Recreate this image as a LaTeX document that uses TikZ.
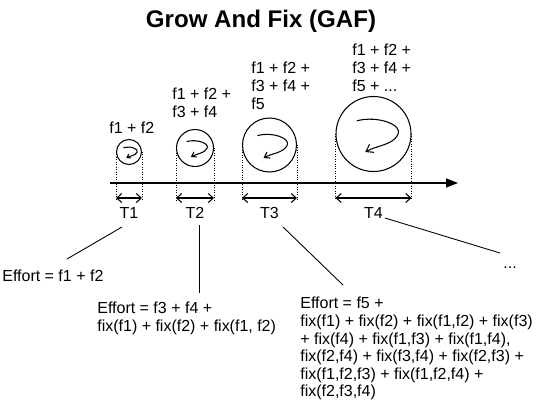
\documentclass[tikz,border=0pt]{standalone}
\usepackage{fontspec}
\setmainfont{Liberation Sans}
\usetikzlibrary{arrows.meta,calc}

% curled arrow inside a feature circle: #1 circle node, #2 radius (cm), #3 tip length
\newcommand{\swirl}[3]{%
  \draw[line width=0.6pt,shift={(#1)},scale=#2,-{Straight Barb[angle=70:#3]}]
    (-0.45,0.35) .. controls (0.1,0.5) and (0.8,0.25) .. (0.65,-0.02)
    .. controls (0.5,-0.3) and (0.1,-0.3) .. (-0.22,-0.48);}

\begin{document}
\begin{tikzpicture}[
  txt/.style={font=\fontsize{9.1}{10}\selectfont,align=left,inner sep=0pt},
  ring/.style={draw,circle,inner sep=0pt,line width=0.6pt},
  guide/.style={densely dotted,line width=0.4pt},
  dim/.style={line width=0.6pt,{Straight Barb[length=1mm,width=1.8mm]}-{Straight Barb[length=1mm,width=1.8mm]}},
  lead/.style={line width=0.5pt}]
  \useasboundingbox (0,0) rectangle (10.74,-8.08);
  \node[font=\fontsize{13.7}{16}\selectfont\bfseries,inner sep=0pt,anchor=base] (title)
    at (5.22,-0.54) {Grow And Fix (GAF)};
  % ---- time axis ----
  \coordinate (ax0) at (2.2,-3.66);
  \coordinate (ax1) at (9.16,-3.66);
  \draw[line width=0.8pt,-{Triangle[length=2.4mm,width=1.8mm]}] (ax0) -- (ax1);
  % ---- growing feature sets ----
  \node[ring,minimum size=5mm]   (c1) at (2.58,-3.04) {};
  \node[ring,minimum size=7.4mm] (c2) at (3.9,-2.96)  {};
  \node[ring,minimum size=10.8mm](c3) at (5.39,-2.9)  {};
  \node[ring,minimum size=15mm]  (c4) at (7.47,-2.68) {};
  \swirl{c1}{0.25}{0.8mm}
  \swirl{c2}{0.37}{1mm}
  \swirl{c3}{0.54}{1.2mm}
  \swirl{c4}{0.75}{1.6mm}
  % ---- spans and time steps ----
  \draw[guide] (c1.west) -- (c1.west |- 0,-4.0); \draw[guide] (c1.east) -- (c1.east |- 0,-4.0);
  \draw[dim] (c1.west |- 0,-3.96) -- (c1.east |- 0,-3.96);
  \draw[guide] (c2.west) -- (c2.west |- 0,-4.0); \draw[guide] (c2.east) -- (c2.east |- 0,-4.0);
  \draw[dim] (c2.west |- 0,-3.96) -- (c2.east |- 0,-3.96);
  \draw[guide] (c3.west) -- (c3.west |- 0,-4.0); \draw[guide] (c3.east) -- (c3.east |- 0,-4.0);
  \draw[dim] (c3.west |- 0,-3.96) -- (c3.east |- 0,-3.96);
  \draw[guide] (c4.west) -- (c4.west |- 0,-4.0); \draw[guide] (c4.east) -- (c4.east |- 0,-4.0);
  \draw[dim] (c4.west |- 0,-3.96) -- (c4.east |- 0,-3.96);
  \node[txt,anchor=base] (t1) at (c1 |- 0,-4.37) {T1};
  \node[txt,anchor=base] (t2) at (c2 |- 0,-4.37) {T2};
  \node[txt,anchor=base] (t3) at (c3 |- 0,-4.37) {T3};
  \node[txt,anchor=base] (t4) at (c4 |- 0,-4.37) {T4};
  % ---- features present ----
  \node[txt,anchor=north west] (s1) at (2.18,-2.44) {f1 + f2};
  \node[txt,anchor=north west] (s2) at (3.44,-1.76) {f1 + f2 +\\ f3 + f4};
  \node[txt,anchor=north west] (s3) at (5.02,-1.24) {f1 + f2 +\\ f3 + f4 +\\ f5};
  \node[txt,anchor=north west] (s4) at (7.04,-0.88) {f1 + f2 +\\ f3 + f4 +\\ f5 + ...};
  % ---- effort per step ----
  \node[txt,anchor=north west] (e1) at (0.04,-5.4) {Effort = f1 + f2};
  \node[txt,anchor=north west] (e2) at (1.94,-6.04)
    {Effort = f3 + f4 +\\ fix(f1) + fix(f2) + fix(f1, f2)};
  \node[txt,anchor=north west] (e3) at (6.0,-5.94)
    {Effort = f5 +\\ fix(f1) + fix(f2) + fix(f1,f2) + fix(f3)\\
     + fix(f4) + fix(f1,f3) + fix(f1,f4),\\ fix(f2,f4) + fix(f3,f4) + fix(f2,f3) +\\
     fix(f1,f2,f3) + fix(f1,f2,f4) +\\ fix(f2,f3,f4)};
  \node[txt,anchor=base west] (e4) at (10.06,-5.36) {...};
  % ---- leader lines ----
  \coordinate (t1a) at (2.44,-4.54);  \coordinate (e1a) at (1.34,-5.18);
  \coordinate (t2a) at (3.98,-4.5);   \coordinate (e2a) at (3.98,-5.86);
  \coordinate (t3a) at (5.66,-4.54);  \coordinate (e3a) at (6.86,-5.7);
  \coordinate (t4a) at (7.7,-4.36);   \coordinate (e4a) at (10.0,-5.06);
  \draw[lead] (t1a) -- (e1a);
  \draw[lead] (t2a) -- (e2a);
  \draw[lead] (t3a) -- (e3a);
  \draw[lead] (t4a) -- (e4a);
\end{tikzpicture}
\end{document}
